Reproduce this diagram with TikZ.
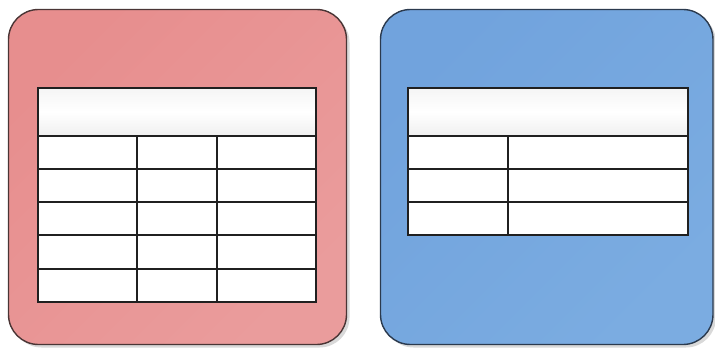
\documentclass[tikz,border=0pt]{standalone}
\usetikzlibrary{shadows}
\definecolor{redfill}{HTML}{E78E8E}
\definecolor{redfillB}{HTML}{EA9C9C}
\definecolor{redline}{HTML}{4A3535}
\definecolor{bluefill}{HTML}{71A3DD}
\definecolor{bluefillB}{HTML}{7BACE1}
\definecolor{blueline}{HTML}{2B3A4E}
\definecolor{gridline}{HTML}{202020}
\tikzset{
  panel/.style={rounded corners=30pt, line width=1.4pt,
    drop shadow={shadow xshift=3pt, shadow yshift=-3pt, opacity=0.25, fill=black!60}},
  redpanel/.style={panel, draw=redline, shading=axis, left color=redfill, right color=redfillB, shading angle=45},
  bluepanel/.style={panel, draw=blueline, shading=axis, left color=bluefill, right color=bluefillB, shading angle=45},
  tablebody/.style={fill=white, draw=gridline, line width=1.2pt},
  tablehead/.style={draw=gridline, line width=1.2pt, top color=gray!8, bottom color=gray!12, middle color=white},
  gridrule/.style={draw=gridline, line width=1.1pt}
}
\begin{document}
\begin{tikzpicture}[x=1pt,y=-1pt]
\useasboundingbox (0,0) rectangle (715,350);
% panels
\path[redpanel] (8.5,9.5) rectangle (346.5,344.5);
\path[bluepanel] (380.5,9.5) rectangle (713,344.5);
% left table
\path[tablebody] (38,136) rectangle (316,302);
\path[tablehead] (38,88) rectangle (316,136);
\foreach \y in {169,202,235,269} \draw[gridrule] (38,\y) -- (316,\y);
\foreach \x in {137,217} \draw[gridrule] (\x,136) -- (\x,302);
\draw[draw=gridline, line width=1.2pt] (38,88) rectangle (316,302);
% right table
\path[tablebody] (408,136) rectangle (688,235);
\path[tablehead] (408,88) rectangle (688,136);
\foreach \y in {169,202} \draw[gridrule] (408,\y) -- (688,\y);
\draw[gridrule] (508,136) -- (508,235);
\draw[draw=gridline, line width=1.2pt] (408,88) rectangle (688,235);
\end{tikzpicture}
\end{document}
